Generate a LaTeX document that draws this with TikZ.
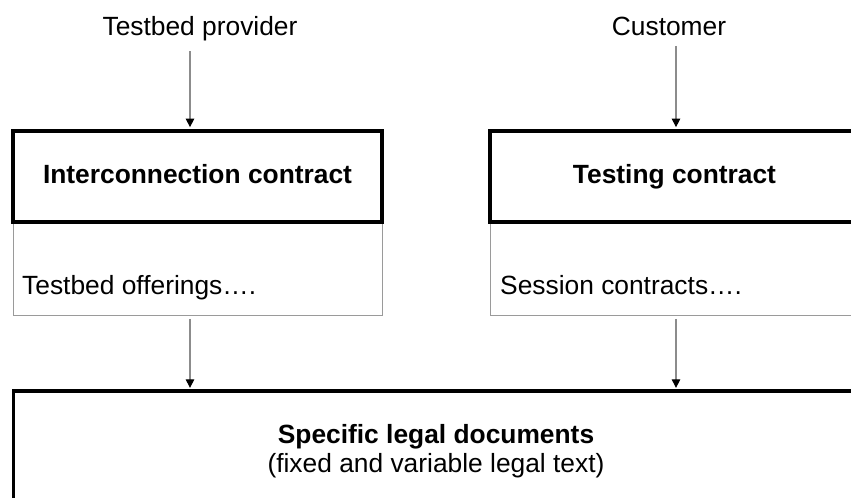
\documentclass[tikz,border=0pt]{standalone}
\usepackage{fontspec}
\setmainfont{Liberation Sans}
\usetikzlibrary{arrows.meta,positioning}
\definecolor{linegray}{HTML}{8C8C8C}
\definecolor{boxgray}{HTML}{9A9A9A}

\tikzset{
  contract/.style={draw, line width=2.2pt, minimum width=7.38cm, minimum height=1.82cm,
    text height=1.05em, text depth=0.21em, font=\fontsize{15}{16.5}\selectfont\bfseries},
  offers/.style={draw=boxgray, line width=0.5pt, minimum width=7.38cm, minimum height=1.86cm},
  flow/.style={draw=linegray, line width=0.6pt, shorten <=2pt, -{Triangle[black,width=4.8pt,length=4.8pt]}},
}

\begin{document}
\begin{tikzpicture}[x=0.02cm, y=0.02cm, font=\fontsize{15}{16.5}\selectfont]
  \useasboundingbox (0,0) rectangle (851,497);
  \clip (0,0) rectangle (851,497);

  % parties on top
  \node[anchor=base] (prov) at (200,461) {Testbed provider};
  \node[anchor=base] (cust) at (669,461) {Customer};

  % contracts, each with its list below
  \node[offers] (offl) at (197.5,228.5) {};
  \node[offers] (offr) at (674.5,228.5) {};
  \node[contract] (icon) at (197.5,320.5) {Interconnection contract};
  \node[contract] (test) at (674.5,320.5) {Testing contract};
  \node[anchor=base west] (tbo) at (16,202) {Testbed offerings….};
  \node[anchor=base west] (sess) at (494,202) {Session contracts….};

  \node[draw, line width=1.8pt, minimum width=16.92cm, minimum height=2.4cm, align=center] (legal) at (436,46)
    {\textbf{Specific legal documents}\\(fixed and variable legal text)};

  \coordinate (lx) at (190,0);
  \coordinate (rx) at (676,0);
  \draw[flow, shorten >=1.1pt] (prov.south -| lx) -- (icon.north -| lx);
  \draw[flow, shorten >=1.1pt] (cust.south -| rx) -- (test.north -| rx);
  \draw[flow, shorten >=0.9pt] (offl.south -| lx) -- (legal.north -| lx);
  \draw[flow, shorten >=0.9pt] (offr.south -| rx) -- (legal.north -| rx);
\end{tikzpicture}
\end{document}
